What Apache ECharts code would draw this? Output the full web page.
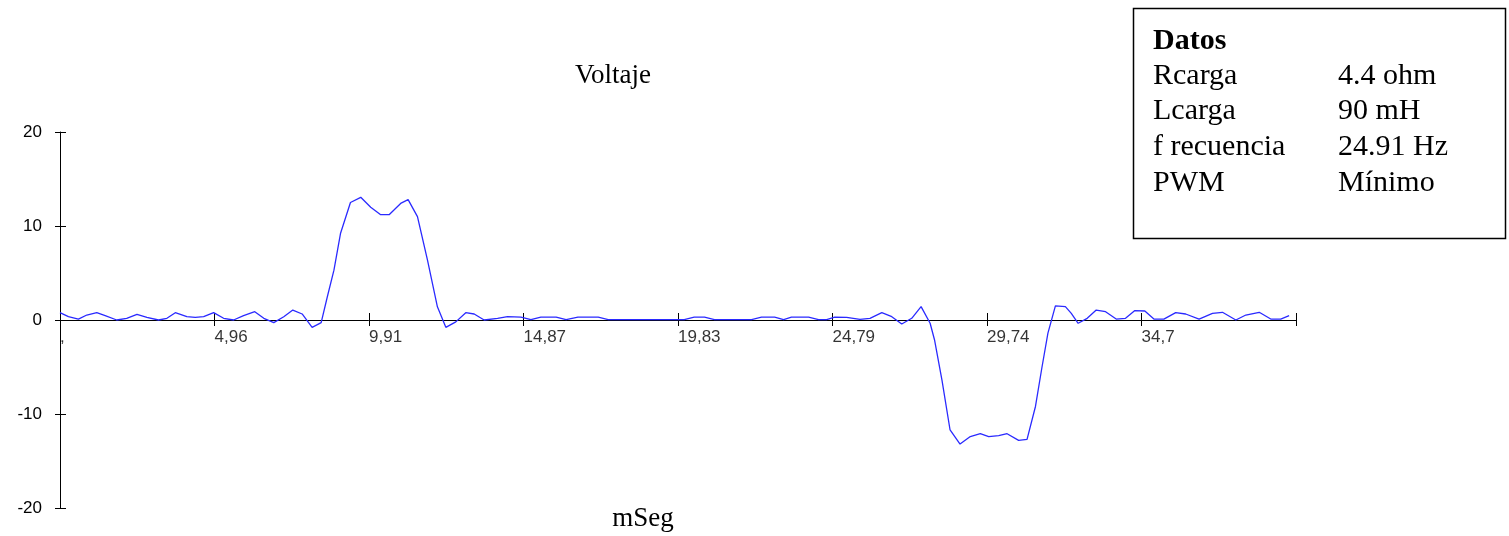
<!DOCTYPE html>
<html>
<head>
<meta charset="utf-8">
<script src="https://cdn.jsdelivr.net/npm/echarts@6/dist/echarts.min.js"></script>
<style>
html,body{margin:0;padding:0;background:#fff;}
#chart{width:1509px;height:536px;}
</style>
</head>
<body>
<div id="chart"></div>
<script>
// Time (ms) and voltage samples
const timeMs = [
  0.00, 0.27, 0.59, 0.86, 1.18, 1.45, 1.82, 2.14, 2.47, 2.79,
  3.16, 3.43, 3.70, 4.07, 4.34, 4.61, 4.93, 5.25, 5.57, 5.89,
  6.25, 6.54, 6.86, 7.18, 7.47, 7.77, 8.09, 8.38, 8.58, 8.79,
  9.00, 9.32, 9.65, 9.97, 10.29, 10.56, 10.93, 11.17, 11.47, 11.79,
  12.11, 12.38, 12.70, 13.02, 13.29, 13.61, 14.04, 14.36, 14.79, 15.11,
  15.43, 15.92, 16.24, 16.62, 17.27, 17.59, 18.50, 19.40, 20.03, 20.35,
  20.68, 21.00, 21.60, 22.19, 22.51, 22.93, 23.22, 23.47, 24.02, 24.34,
  24.60, 24.86, 25.24, 25.67, 25.99, 26.37, 26.69, 27.01, 27.33, 27.63,
  27.92, 28.06, 28.30, 28.56, 28.88, 29.21, 29.53, 29.80, 30.12, 30.39,
  30.76, 31.03, 31.30, 31.51, 31.70, 31.94, 32.26, 32.45, 32.67, 32.96,
  33.25, 33.55, 33.89, 34.19, 34.49, 34.81, 35.10, 35.42, 35.80, 36.12,
  36.55, 36.98, 37.30, 37.73, 38.05, 38.48, 38.85, 39.17, 39.44
];
const voltage = [
  0.78, 0.35, 0.10, 0.53, 0.78, 0.46, 0.00, 0.18, 0.60, 0.28,
  0.00, 0.18, 0.78, 0.35, 0.28, 0.35, 0.78, 0.18, 0.00, 0.46,
  0.88, 0.18, -0.28, 0.35, 1.06, 0.64, -0.78, -0.28, 2.50, 5.30,
  9.20, 12.50, 13.05, 12.00, 11.20, 11.20, 12.40, 12.80, 11.00, 6.40,
  1.40, -0.78, -0.20, 0.78, 0.64, 0.00, 0.18, 0.35, 0.30, 0.05,
  0.30, 0.30, 0.05, 0.30, 0.30, 0.05, 0.05, 0.05, 0.05, 0.30,
  0.30, 0.05, 0.05, 0.05, 0.30, 0.30, 0.05, 0.30, 0.30, 0.05,
  0.05, 0.30, 0.28, 0.07, 0.18, 0.78, 0.35, -0.43, 0.18, 1.42,
  -0.35, -2.10, -6.40, -11.70, -13.20, -12.40, -12.10, -12.40, -12.30, -12.10,
  -12.80, -12.70, -9.20, -5.00, -1.40, 1.50, 1.42, 0.70, -0.35, 0.18,
  1.06, 0.88, 0.10, 0.18, 1.00, 0.96, 0.10, 0.10, 0.78, 0.64,
  0.10, 0.70, 0.82, 0.00, 0.53, 0.82, 0.10, 0.10, 0.46
];
const xTickLabels = [",", "4,96", "9,91", "14,87", "19,83", "24,79", "29,74", "34,7", ""];
const xMin = 0, xMax = 39.66, xInterval = 4.9575;
const yMin = -20, yMax = 20, yInterval = 10;
const chartTitle = "Voltaje";
const xAxisTitle = "mSeg";
const infoTitle = "Datos";
const infoNames = ["Rcarga", "Lcarga", "f recuencia", "PWM"];
const infoValues = ["4.4 ohm", "90 mH", "24.91 Hz", "Mínimo"];

const seriesData = timeMs.map((t, i) => [t, voltage[i]]);
// tick label anchors placed on the zero line through the axis scale
const tickLabelData = xTickLabels.map((lab, i) => ({ value: [xMin + i * xInterval, 0], name: lab }));

const serif = "'Liberation Serif', 'Times New Roman', serif";
const sans = "'Liberation Sans', Arial, sans-serif";

const graphics = [
  { type: 'text', style: { text: chartTitle, x: 613, y: 76, font: '27px ' + serif, fill: '#000', textAlign: 'center', textVerticalAlign: 'middle' } },
  { type: 'text', style: { text: xAxisTitle, x: 643, y: 519, font: '27px ' + serif, fill: '#000', textAlign: 'center', textVerticalAlign: 'middle' } },
  { type: 'rect', shape: { x: 1133.5, y: 8.5, width: 372, height: 230 }, style: { fill: '#fff', stroke: '#000', lineWidth: 1.5 } },
  { type: 'text', style: { text: infoTitle, x: 1153, y: 41, font: 'bold 30px ' + serif, fill: '#000', textAlign: 'left', textVerticalAlign: 'middle' } }
];
const rowY = [76, 111, 147, 183];
infoNames.forEach((n, i) => {
  graphics.push({ type: 'text', style: { text: n, x: 1153, y: rowY[i], font: '30px ' + serif, fill: '#000', textAlign: 'left', textVerticalAlign: 'middle' } });
  graphics.push({ type: 'text', style: { text: infoValues[i], x: 1338, y: rowY[i], font: '30px ' + serif, fill: '#000', textAlign: 'left', textVerticalAlign: 'middle' } });
});

const chart = echarts.init(document.getElementById('chart'), null, { renderer: 'canvas' });
chart.setOption({
  backgroundColor: '#fff',
  animation: false,
  grid: { left: 60, right: 213, top: 132, bottom: 28, containLabel: false },
  xAxis: [
    {
      type: 'value', min: xMin, max: xMax, interval: xInterval, position: 'bottom',
      axisLine: { show: true, onZero: true, onZeroAxisIndex: 0, lineStyle: { color: '#000', width: 1 } },
      axisTick: { show: true, inside: true, length: 7, lineStyle: { color: '#000', width: 1 } },
      axisLabel: { show: false },
      splitLine: { show: false }
    },
    {
      type: 'value', min: xMin, max: xMax, interval: xInterval, position: 'bottom',
      axisLine: { show: false, onZero: true, onZeroAxisIndex: 0 },
      axisTick: { show: true, inside: false, length: 6, lineStyle: { color: '#000', width: 1 } },
      axisLabel: { show: false },
      splitLine: { show: false }
    }
  ],
  yAxis: [
    {
      type: 'value', min: yMin, max: yMax, interval: yInterval, position: 'left',
      axisLine: { show: true, onZero: false, lineStyle: { color: '#000', width: 1 } },
      axisTick: { show: true, inside: false, length: 5, lineStyle: { color: '#000', width: 1 } },
      axisLabel: { show: true, color: '#000', fontFamily: sans, fontSize: 17, margin: 18 },
      splitLine: { show: false }
    },
    {
      type: 'value', min: yMin, max: yMax, interval: yInterval, position: 'left',
      axisLine: { show: false, onZero: false },
      axisTick: { show: true, inside: true, length: 6, lineStyle: { color: '#000', width: 1 } },
      axisLabel: { show: false },
      splitLine: { show: false }
    }
  ],
  series: [
    {
      type: 'line', xAxisIndex: 0, yAxisIndex: 0, data: seriesData,
      showSymbol: false, smooth: false,
      lineStyle: { color: '#2a2aff', width: 1.3 }
    },
    {
      type: 'scatter', xAxisIndex: 0, yAxisIndex: 0, data: tickLabelData,
      symbolSize: 0, silent: true, z: 1,
      label: {
        show: true, position: 'insideTopLeft', distance: 0, offset: [0, 9],
        formatter: p => p.name, color: '#000', fontFamily: sans, fontSize: 17,
        align: 'left', verticalAlign: 'top'
      }
    }
  ],
  graphic: graphics
});
</script>
</body>
</html>
